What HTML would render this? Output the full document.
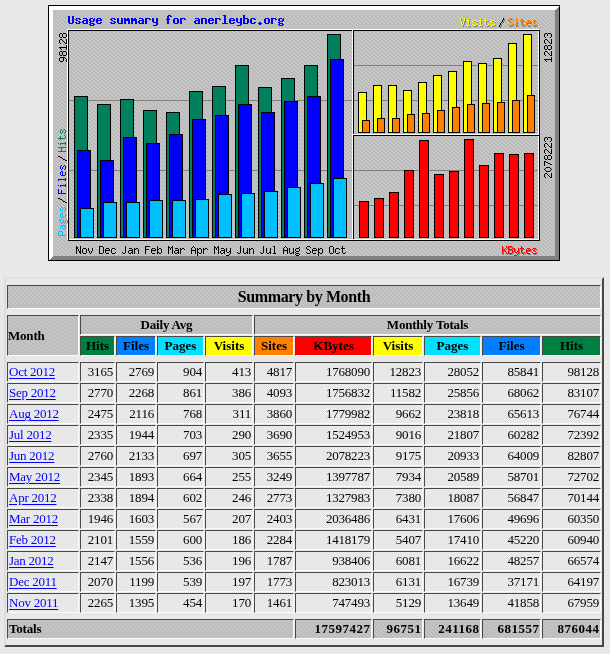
<!DOCTYPE html>
<html><head><meta charset="utf-8"><title>Usage Statistics for anerleybc.org</title>
<style>
html,body{margin:0;padding:0}
body{width:610px;height:654px;overflow:hidden;position:relative;background:#e8e8e8;font-family:"Liberation Serif",serif;color:#000}
#bg{position:absolute;left:0;top:0;width:610px;height:654px}
#cw{position:absolute;left:0;top:0;width:610px;height:654px;will-change:transform}
#tb{position:absolute;left:4px;top:277px;width:596px;height:366px;border-style:solid;border-width:2px;border-color:#e3e3e3 #484848 #484848 #dcdcdc}
.c{position:absolute;box-sizing:border-box;border-style:solid;border-width:1px;border-color:#484848 #fbfbfb #fbfbfb #484848;padding:1px;font-size:13px;white-space:nowrap;overflow:hidden}
.c.g{background-color:#c0c0c0;background-image:repeating-linear-gradient(45deg,#c4c4c4 0,#c4c4c4 2.12px,#b4b4b4 2.12px,#b4b4b4 2.83px)}
.t{font-size:16px;font-weight:bold;text-align:center;letter-spacing:-0.4px}
.h{font-weight:bold;text-align:center}
.gh{letter-spacing:-0.2px}
.d{letter-spacing:-0.2px}
.tn{letter-spacing:0.5px}
.l{text-align:left}
.i1{text-indent:0}
.m0{padding-left:0}
.r{text-align:right}
.tn{padding-right:0.5px}
.a{color:#0000ff;text-decoration:underline;text-underline-offset:2px;text-decoration-thickness:1px;letter-spacing:-0.25px}
</style></head><body>
<svg id="bg" width="610" height="654"><defs>
<pattern id="p" width="2" height="2" patternUnits="userSpaceOnUse"><rect width="2" height="2" fill="#f0f0f0"/><rect width="1" height="1" fill="#e0e0e0"/><rect x="1" y="1" width="1" height="1" fill="#e0e0e0"/></pattern>
</defs><rect width="610" height="654" fill="url(#p)" shape-rendering="crispEdges"/></svg>
<svg width="512" height="256" viewBox="0 0 512 256" shape-rendering="crispEdges" style="position:absolute;left:48px;top:5px"><defs><pattern id="g" width="4" height="4" patternUnits="userSpaceOnUse"><rect width="4" height="4" fill="#c5c5c5"/><rect x="0" y="0" width="1" height="1" fill="#b1b1b1"/><rect x="1" y="1" width="1" height="1" fill="#b1b1b1"/><rect x="2" y="2" width="1" height="1" fill="#b1b1b1"/><rect x="3" y="3" width="1" height="1" fill="#b1b1b1"/></pattern></defs><rect width="512" height="256" fill="url(#g)"/><rect x="0" y="0" width="512" height="5" fill="#fff"/><rect x="0" y="0" width="5" height="256" fill="#fff"/><polygon points="512,0 512,256 0,256 5,251 507,251 507,5" fill="#808080"/><rect x="0.5" y="0.5" width="511" height="255" fill="none" stroke="#000"/><rect x="19.5" y="24.5" width="471" height="210" fill="none" stroke="#fff"/><rect x="20.5" y="25.5" width="471" height="210" fill="none" stroke="#000"/><rect x="305" y="25" width="1" height="209" fill="#000"/><rect x="304" y="25" width="1" height="209" fill="#fff"/><rect x="305" y="130" width="186" height="1" fill="#000"/><rect x="305" y="129" width="186" height="1" fill="#fff"/><rect x="21" y="95" width="283" height="1" fill="#808080"/><rect x="21" y="165" width="283" height="1" fill="#808080"/><rect x="306" y="60" width="184" height="1" fill="#808080"/><rect x="306" y="95" width="184" height="1" fill="#808080"/><rect x="306" y="165" width="184" height="1" fill="#808080"/><rect x="306" y="200" width="184" height="1" fill="#808080"/><rect x="26" y="91" width="14" height="142" fill="#000"/><rect x="27" y="92" width="12" height="140" fill="#00805c"/><rect x="49" y="99" width="14" height="134" fill="#000"/><rect x="50" y="100" width="12" height="132" fill="#00805c"/><rect x="72" y="94" width="14" height="139" fill="#000"/><rect x="73" y="95" width="12" height="137" fill="#00805c"/><rect x="95" y="105" width="14" height="128" fill="#000"/><rect x="96" y="106" width="12" height="126" fill="#00805c"/><rect x="118" y="107" width="14" height="126" fill="#000"/><rect x="119" y="108" width="12" height="124" fill="#00805c"/><rect x="141" y="86" width="14" height="147" fill="#000"/><rect x="142" y="87" width="12" height="145" fill="#00805c"/><rect x="164" y="81" width="14" height="152" fill="#000"/><rect x="165" y="82" width="12" height="150" fill="#00805c"/><rect x="187" y="60" width="14" height="173" fill="#000"/><rect x="188" y="61" width="12" height="171" fill="#00805c"/><rect x="210" y="82" width="14" height="151" fill="#000"/><rect x="211" y="83" width="12" height="149" fill="#00805c"/><rect x="233" y="73" width="14" height="160" fill="#000"/><rect x="234" y="74" width="12" height="158" fill="#00805c"/><rect x="256" y="60" width="14" height="173" fill="#000"/><rect x="257" y="61" width="12" height="171" fill="#00805c"/><rect x="279" y="29" width="14" height="204" fill="#000"/><rect x="280" y="30" width="12" height="202" fill="#00805c"/><rect x="29" y="145" width="14" height="88" fill="#000"/><rect x="30" y="146" width="12" height="86" fill="#0000ff"/><rect x="52" y="155" width="14" height="78" fill="#000"/><rect x="53" y="156" width="12" height="76" fill="#0000ff"/><rect x="75" y="132" width="14" height="101" fill="#000"/><rect x="76" y="133" width="12" height="99" fill="#0000ff"/><rect x="98" y="138" width="14" height="95" fill="#000"/><rect x="99" y="139" width="12" height="93" fill="#0000ff"/><rect x="121" y="129" width="14" height="104" fill="#000"/><rect x="122" y="130" width="12" height="102" fill="#0000ff"/><rect x="144" y="114" width="14" height="119" fill="#000"/><rect x="145" y="115" width="12" height="117" fill="#0000ff"/><rect x="167" y="110" width="14" height="123" fill="#000"/><rect x="168" y="111" width="12" height="121" fill="#0000ff"/><rect x="190" y="99" width="14" height="134" fill="#000"/><rect x="191" y="100" width="12" height="132" fill="#0000ff"/><rect x="213" y="107" width="14" height="126" fill="#000"/><rect x="214" y="108" width="12" height="124" fill="#0000ff"/><rect x="236" y="96" width="14" height="137" fill="#000"/><rect x="237" y="97" width="12" height="135" fill="#0000ff"/><rect x="259" y="91" width="14" height="142" fill="#000"/><rect x="260" y="92" width="12" height="140" fill="#0000ff"/><rect x="282" y="54" width="14" height="179" fill="#000"/><rect x="283" y="55" width="12" height="177" fill="#0000ff"/><rect x="32" y="203" width="14" height="30" fill="#000"/><rect x="33" y="204" width="12" height="28" fill="#00c0ff"/><rect x="55" y="197" width="14" height="36" fill="#000"/><rect x="56" y="198" width="12" height="34" fill="#00c0ff"/><rect x="78" y="197" width="14" height="36" fill="#000"/><rect x="79" y="198" width="12" height="34" fill="#00c0ff"/><rect x="101" y="195" width="14" height="38" fill="#000"/><rect x="102" y="196" width="12" height="36" fill="#00c0ff"/><rect x="124" y="195" width="14" height="38" fill="#000"/><rect x="125" y="196" width="12" height="36" fill="#00c0ff"/><rect x="147" y="194" width="14" height="39" fill="#000"/><rect x="148" y="195" width="12" height="37" fill="#00c0ff"/><rect x="170" y="189" width="14" height="44" fill="#000"/><rect x="171" y="190" width="12" height="42" fill="#00c0ff"/><rect x="193" y="188" width="14" height="45" fill="#000"/><rect x="194" y="189" width="12" height="43" fill="#00c0ff"/><rect x="216" y="186" width="14" height="47" fill="#000"/><rect x="217" y="187" width="12" height="45" fill="#00c0ff"/><rect x="239" y="182" width="14" height="51" fill="#000"/><rect x="240" y="183" width="12" height="49" fill="#00c0ff"/><rect x="262" y="178" width="14" height="55" fill="#000"/><rect x="263" y="179" width="12" height="53" fill="#00c0ff"/><rect x="285" y="173" width="14" height="60" fill="#000"/><rect x="286" y="174" width="12" height="58" fill="#00c0ff"/><rect x="310" y="87" width="9" height="41" fill="#000"/><rect x="311" y="88" width="7" height="39" fill="#ffff00"/><rect x="325" y="80" width="9" height="48" fill="#000"/><rect x="326" y="81" width="7" height="46" fill="#ffff00"/><rect x="340" y="80" width="9" height="48" fill="#000"/><rect x="341" y="81" width="7" height="46" fill="#ffff00"/><rect x="355" y="85" width="9" height="43" fill="#000"/><rect x="356" y="86" width="7" height="41" fill="#ffff00"/><rect x="370" y="77" width="9" height="51" fill="#000"/><rect x="371" y="78" width="7" height="49" fill="#ffff00"/><rect x="385" y="70" width="9" height="58" fill="#000"/><rect x="386" y="71" width="7" height="56" fill="#ffff00"/><rect x="400" y="66" width="9" height="62" fill="#000"/><rect x="401" y="67" width="7" height="60" fill="#ffff00"/><rect x="415" y="56" width="9" height="72" fill="#000"/><rect x="416" y="57" width="7" height="70" fill="#ffff00"/><rect x="430" y="58" width="9" height="70" fill="#000"/><rect x="431" y="59" width="7" height="68" fill="#ffff00"/><rect x="445" y="53" width="9" height="75" fill="#000"/><rect x="446" y="54" width="7" height="73" fill="#ffff00"/><rect x="460" y="38" width="9" height="90" fill="#000"/><rect x="461" y="39" width="7" height="88" fill="#ffff00"/><rect x="475" y="29" width="9" height="99" fill="#000"/><rect x="476" y="30" width="7" height="97" fill="#ffff00"/><rect x="314" y="115" width="8" height="13" fill="#000"/><rect x="315" y="116" width="6" height="11" fill="#ff8000"/><rect x="329" y="113" width="8" height="15" fill="#000"/><rect x="330" y="114" width="6" height="13" fill="#ff8000"/><rect x="344" y="113" width="8" height="15" fill="#000"/><rect x="345" y="114" width="6" height="13" fill="#ff8000"/><rect x="359" y="109" width="8" height="19" fill="#000"/><rect x="360" y="110" width="6" height="17" fill="#ff8000"/><rect x="374" y="108" width="8" height="20" fill="#000"/><rect x="375" y="109" width="6" height="18" fill="#ff8000"/><rect x="389" y="105" width="8" height="23" fill="#000"/><rect x="390" y="106" width="6" height="21" fill="#ff8000"/><rect x="404" y="102" width="8" height="26" fill="#000"/><rect x="405" y="103" width="6" height="24" fill="#ff8000"/><rect x="419" y="99" width="8" height="29" fill="#000"/><rect x="420" y="100" width="6" height="27" fill="#ff8000"/><rect x="434" y="98" width="8" height="30" fill="#000"/><rect x="435" y="99" width="6" height="28" fill="#ff8000"/><rect x="449" y="97" width="8" height="31" fill="#000"/><rect x="450" y="98" width="6" height="29" fill="#ff8000"/><rect x="464" y="95" width="8" height="33" fill="#000"/><rect x="465" y="96" width="6" height="31" fill="#ff8000"/><rect x="479" y="90" width="8" height="38" fill="#000"/><rect x="480" y="91" width="6" height="36" fill="#ff8000"/><rect x="311" y="196" width="10" height="37" fill="#000"/><rect x="312" y="197" width="8" height="35" fill="#ff0000"/><rect x="326" y="193" width="10" height="40" fill="#000"/><rect x="327" y="194" width="8" height="38" fill="#ff0000"/><rect x="341" y="187" width="10" height="46" fill="#000"/><rect x="342" y="188" width="8" height="44" fill="#ff0000"/><rect x="356" y="165" width="10" height="68" fill="#000"/><rect x="357" y="166" width="8" height="66" fill="#ff0000"/><rect x="371" y="135" width="10" height="98" fill="#000"/><rect x="372" y="136" width="8" height="96" fill="#ff0000"/><rect x="386" y="169" width="10" height="64" fill="#000"/><rect x="387" y="170" width="8" height="62" fill="#ff0000"/><rect x="401" y="166" width="10" height="67" fill="#000"/><rect x="402" y="167" width="8" height="65" fill="#ff0000"/><rect x="416" y="134" width="10" height="99" fill="#000"/><rect x="417" y="135" width="8" height="97" fill="#ff0000"/><rect x="431" y="160" width="10" height="73" fill="#000"/><rect x="432" y="161" width="8" height="71" fill="#ff0000"/><rect x="446" y="148" width="10" height="85" fill="#000"/><rect x="447" y="149" width="8" height="83" fill="#ff0000"/><rect x="461" y="149" width="10" height="84" fill="#000"/><rect x="462" y="150" width="8" height="82" fill="#ff0000"/><rect x="476" y="148" width="10" height="85" fill="#000"/><rect x="477" y="149" width="8" height="83" fill="#ff0000"/><path d="M120 10h3v1h-3zM175 10h3v1h-3zM195 10h2v1h-2zM20 11h2v1h-2zM24 11h2v1h-2zM119 11h2v1h-2zM122 11h2v1h-2zM176 11h2v1h-2zM195 11h2v1h-2zM20 12h2v1h-2zM24 12h2v1h-2zM119 12h2v1h-2zM176 12h2v1h-2zM195 12h2v1h-2zM20 13h2v1h-2zM24 13h2v1h-2zM28 13h4v1h-4zM35 13h4v1h-4zM42 13h3v1h-3zM46 13h1v1h-1zM49 13h4v1h-4zM63 13h4v1h-4zM69 13h2v1h-2zM73 13h2v1h-2zM76 13h2v1h-2zM79 13h2v1h-2zM83 13h2v1h-2zM86 13h2v1h-2zM91 13h4v1h-4zM97 13h5v1h-5zM104 13h2v1h-2zM108 13h2v1h-2zM119 13h2v1h-2zM126 13h4v1h-4zM132 13h5v1h-5zM147 13h4v1h-4zM153 13h5v1h-5zM161 13h4v1h-4zM167 13h5v1h-5zM176 13h2v1h-2zM182 13h4v1h-4zM188 13h2v1h-2zM192 13h2v1h-2zM195 13h5v1h-5zM203 13h4v1h-4zM217 13h4v1h-4zM223 13h5v1h-5zM231 13h3v1h-3zM235 13h1v1h-1zM20 14h2v1h-2zM24 14h2v1h-2zM27 14h2v1h-2zM31 14h2v1h-2zM38 14h2v1h-2zM41 14h2v1h-2zM45 14h2v1h-2zM48 14h2v1h-2zM52 14h2v1h-2zM62 14h2v1h-2zM66 14h2v1h-2zM69 14h2v1h-2zM73 14h2v1h-2zM76 14h6v1h-6zM83 14h6v1h-6zM94 14h2v1h-2zM97 14h2v1h-2zM101 14h2v1h-2zM104 14h2v1h-2zM108 14h2v1h-2zM118 14h4v1h-4zM125 14h2v1h-2zM129 14h2v1h-2zM132 14h2v1h-2zM136 14h2v1h-2zM150 14h2v1h-2zM153 14h2v1h-2zM157 14h2v1h-2zM160 14h2v1h-2zM164 14h2v1h-2zM167 14h2v1h-2zM171 14h2v1h-2zM176 14h2v1h-2zM181 14h2v1h-2zM185 14h2v1h-2zM188 14h2v1h-2zM192 14h2v1h-2zM195 14h2v1h-2zM199 14h2v1h-2zM202 14h2v1h-2zM206 14h2v1h-2zM216 14h2v1h-2zM220 14h2v1h-2zM223 14h2v1h-2zM227 14h2v1h-2zM230 14h2v1h-2zM234 14h2v1h-2zM20 15h2v1h-2zM24 15h2v1h-2zM28 15h2v1h-2zM35 15h5v1h-5zM41 15h2v1h-2zM45 15h2v1h-2zM48 15h6v1h-6zM63 15h2v1h-2zM69 15h2v1h-2zM73 15h2v1h-2zM76 15h6v1h-6zM83 15h6v1h-6zM91 15h5v1h-5zM97 15h2v1h-2zM104 15h2v1h-2zM108 15h2v1h-2zM119 15h2v1h-2zM125 15h2v1h-2zM129 15h2v1h-2zM132 15h2v1h-2zM147 15h5v1h-5zM153 15h2v1h-2zM157 15h2v1h-2zM160 15h6v1h-6zM167 15h2v1h-2zM176 15h2v1h-2zM181 15h6v1h-6zM188 15h2v1h-2zM192 15h2v1h-2zM195 15h2v1h-2zM199 15h2v1h-2zM202 15h2v1h-2zM216 15h2v1h-2zM220 15h2v1h-2zM223 15h2v1h-2zM230 15h2v1h-2zM234 15h2v1h-2zM20 16h2v1h-2zM24 16h2v1h-2zM30 16h2v1h-2zM34 16h2v1h-2zM38 16h2v1h-2zM42 16h4v1h-4zM48 16h2v1h-2zM65 16h2v1h-2zM69 16h2v1h-2zM73 16h2v1h-2zM76 16h2v1h-2zM80 16h2v1h-2zM83 16h2v1h-2zM87 16h2v1h-2zM90 16h2v1h-2zM94 16h2v1h-2zM97 16h2v1h-2zM104 16h2v1h-2zM108 16h2v1h-2zM119 16h2v1h-2zM125 16h2v1h-2zM129 16h2v1h-2zM132 16h2v1h-2zM146 16h2v1h-2zM150 16h2v1h-2zM153 16h2v1h-2zM157 16h2v1h-2zM160 16h2v1h-2zM167 16h2v1h-2zM176 16h2v1h-2zM181 16h2v1h-2zM188 16h2v1h-2zM192 16h2v1h-2zM195 16h2v1h-2zM199 16h2v1h-2zM202 16h2v1h-2zM216 16h2v1h-2zM220 16h2v1h-2zM223 16h2v1h-2zM231 16h4v1h-4zM20 17h2v1h-2zM24 17h2v1h-2zM27 17h2v1h-2zM31 17h2v1h-2zM34 17h2v1h-2zM38 17h2v1h-2zM41 17h2v1h-2zM48 17h2v1h-2zM52 17h2v1h-2zM62 17h2v1h-2zM66 17h2v1h-2zM69 17h2v1h-2zM73 17h2v1h-2zM76 17h2v1h-2zM80 17h2v1h-2zM83 17h2v1h-2zM87 17h2v1h-2zM90 17h2v1h-2zM94 17h2v1h-2zM97 17h2v1h-2zM105 17h5v1h-5zM119 17h2v1h-2zM125 17h2v1h-2zM129 17h2v1h-2zM132 17h2v1h-2zM146 17h2v1h-2zM150 17h2v1h-2zM153 17h2v1h-2zM157 17h2v1h-2zM160 17h2v1h-2zM164 17h2v1h-2zM167 17h2v1h-2zM176 17h2v1h-2zM181 17h2v1h-2zM185 17h2v1h-2zM189 17h5v1h-5zM195 17h2v1h-2zM199 17h2v1h-2zM202 17h2v1h-2zM206 17h2v1h-2zM211 17h2v1h-2zM216 17h2v1h-2zM220 17h2v1h-2zM223 17h2v1h-2zM230 17h2v1h-2zM21 18h4v1h-4zM28 18h4v1h-4zM35 18h5v1h-5zM42 18h4v1h-4zM49 18h4v1h-4zM63 18h4v1h-4zM70 18h5v1h-5zM76 18h2v1h-2zM80 18h2v1h-2zM83 18h2v1h-2zM87 18h2v1h-2zM91 18h5v1h-5zM97 18h2v1h-2zM108 18h2v1h-2zM119 18h2v1h-2zM126 18h4v1h-4zM132 18h2v1h-2zM147 18h5v1h-5zM153 18h2v1h-2zM157 18h2v1h-2zM161 18h4v1h-4zM167 18h2v1h-2zM174 18h6v1h-6zM182 18h4v1h-4zM192 18h2v1h-2zM195 18h5v1h-5zM203 18h4v1h-4zM210 18h4v1h-4zM217 18h4v1h-4zM223 18h2v1h-2zM231 18h4v1h-4zM41 19h2v1h-2zM45 19h2v1h-2zM108 19h2v1h-2zM192 19h2v1h-2zM211 19h2v1h-2zM230 19h2v1h-2zM234 19h2v1h-2zM42 20h4v1h-4zM105 20h4v1h-4zM189 20h4v1h-4zM231 20h4v1h-4z" fill="#0000ff"/><path d="M28 241h1v1h-1zM32 241h1v1h-1zM28 242h2v1h-2zM32 242h1v1h-1zM28 243h2v1h-2zM32 243h1v1h-1zM35 243h3v1h-3zM40 243h1v1h-1zM44 243h1v1h-1zM28 244h1v1h-1zM30 244h1v1h-1zM32 244h1v1h-1zM34 244h1v1h-1zM38 244h1v1h-1zM40 244h1v1h-1zM44 244h1v1h-1zM28 245h1v1h-1zM30 245h1v1h-1zM32 245h1v1h-1zM34 245h1v1h-1zM38 245h1v1h-1zM40 245h1v1h-1zM44 245h1v1h-1zM28 246h1v1h-1zM31 246h2v1h-2zM34 246h1v1h-1zM38 246h1v1h-1zM41 246h1v1h-1zM43 246h1v1h-1zM28 247h1v1h-1zM31 247h2v1h-2zM34 247h1v1h-1zM38 247h1v1h-1zM41 247h1v1h-1zM43 247h1v1h-1zM28 248h1v1h-1zM32 248h1v1h-1zM35 248h3v1h-3zM42 248h1v1h-1z" fill="#000"/><path d="M51 241h4v1h-4zM51 242h1v1h-1zM55 242h1v1h-1zM51 243h1v1h-1zM55 243h1v1h-1zM58 243h3v1h-3zM64 243h3v1h-3zM51 244h1v1h-1zM55 244h1v1h-1zM57 244h1v1h-1zM61 244h1v1h-1zM63 244h1v1h-1zM67 244h1v1h-1zM51 245h1v1h-1zM55 245h1v1h-1zM57 245h5v1h-5zM63 245h1v1h-1zM51 246h1v1h-1zM55 246h1v1h-1zM57 246h1v1h-1zM63 246h1v1h-1zM51 247h1v1h-1zM55 247h1v1h-1zM57 247h1v1h-1zM63 247h1v1h-1zM67 247h1v1h-1zM51 248h4v1h-4zM58 248h3v1h-3zM64 248h3v1h-3z" fill="#000"/><path d="M77 241h1v1h-1zM77 242h1v1h-1zM77 243h1v1h-1zM81 243h3v1h-3zM86 243h1v1h-1zM88 243h2v1h-2zM77 244h1v1h-1zM84 244h1v1h-1zM86 244h2v1h-2zM90 244h1v1h-1zM77 245h1v1h-1zM81 245h4v1h-4zM86 245h1v1h-1zM90 245h1v1h-1zM77 246h1v1h-1zM80 246h1v1h-1zM84 246h1v1h-1zM86 246h1v1h-1zM90 246h1v1h-1zM74 247h1v1h-1zM77 247h1v1h-1zM80 247h1v1h-1zM83 247h2v1h-2zM86 247h1v1h-1zM90 247h1v1h-1zM75 248h2v1h-2zM81 248h2v1h-2zM84 248h1v1h-1zM86 248h1v1h-1zM90 248h1v1h-1z" fill="#000"/><path d="M97 241h5v1h-5zM109 241h1v1h-1zM97 242h1v1h-1zM109 242h1v1h-1zM97 243h1v1h-1zM104 243h3v1h-3zM109 243h1v1h-1zM111 243h2v1h-2zM97 244h4v1h-4zM103 244h1v1h-1zM107 244h1v1h-1zM109 244h2v1h-2zM113 244h1v1h-1zM97 245h1v1h-1zM103 245h5v1h-5zM109 245h1v1h-1zM113 245h1v1h-1zM97 246h1v1h-1zM103 246h1v1h-1zM109 246h1v1h-1zM113 246h1v1h-1zM97 247h1v1h-1zM103 247h1v1h-1zM109 247h2v1h-2zM113 247h1v1h-1zM97 248h1v1h-1zM104 248h3v1h-3zM109 248h1v1h-1zM111 248h2v1h-2z" fill="#000"/><path d="M120 241h1v1h-1zM124 241h1v1h-1zM120 242h2v1h-2zM123 242h2v1h-2zM120 243h1v1h-1zM122 243h1v1h-1zM124 243h1v1h-1zM127 243h3v1h-3zM132 243h1v1h-1zM134 243h2v1h-2zM120 244h1v1h-1zM122 244h1v1h-1zM124 244h1v1h-1zM130 244h1v1h-1zM132 244h2v1h-2zM136 244h1v1h-1zM120 245h1v1h-1zM124 245h1v1h-1zM127 245h4v1h-4zM132 245h1v1h-1zM120 246h1v1h-1zM124 246h1v1h-1zM126 246h1v1h-1zM130 246h1v1h-1zM132 246h1v1h-1zM120 247h1v1h-1zM124 247h1v1h-1zM126 247h1v1h-1zM129 247h2v1h-2zM132 247h1v1h-1zM120 248h1v1h-1zM124 248h1v1h-1zM127 248h2v1h-2zM130 248h1v1h-1zM132 248h1v1h-1z" fill="#000"/><path d="M145 241h1v1h-1zM144 242h1v1h-1zM146 242h1v1h-1zM143 243h1v1h-1zM147 243h1v1h-1zM149 243h1v1h-1zM151 243h2v1h-2zM155 243h1v1h-1zM157 243h2v1h-2zM143 244h1v1h-1zM147 244h1v1h-1zM149 244h2v1h-2zM153 244h1v1h-1zM155 244h2v1h-2zM159 244h1v1h-1zM143 245h5v1h-5zM149 245h1v1h-1zM153 245h1v1h-1zM155 245h1v1h-1zM143 246h1v1h-1zM147 246h1v1h-1zM149 246h1v1h-1zM153 246h1v1h-1zM155 246h1v1h-1zM143 247h1v1h-1zM147 247h1v1h-1zM149 247h2v1h-2zM153 247h1v1h-1zM155 247h1v1h-1zM143 248h1v1h-1zM147 248h1v1h-1zM149 248h1v1h-1zM151 248h2v1h-2zM155 248h1v1h-1zM149 249h1v1h-1zM149 250h1v1h-1z" fill="#000"/><path d="M166 241h1v1h-1zM170 241h1v1h-1zM166 242h2v1h-2zM169 242h2v1h-2zM166 243h1v1h-1zM168 243h1v1h-1zM170 243h1v1h-1zM173 243h3v1h-3zM178 243h1v1h-1zM182 243h1v1h-1zM166 244h1v1h-1zM168 244h1v1h-1zM170 244h1v1h-1zM176 244h1v1h-1zM178 244h1v1h-1zM182 244h1v1h-1zM166 245h1v1h-1zM170 245h1v1h-1zM173 245h4v1h-4zM178 245h1v1h-1zM182 245h1v1h-1zM166 246h1v1h-1zM170 246h1v1h-1zM172 246h1v1h-1zM176 246h1v1h-1zM178 246h1v1h-1zM181 246h2v1h-2zM166 247h1v1h-1zM170 247h1v1h-1zM172 247h1v1h-1zM175 247h2v1h-2zM179 247h2v1h-2zM182 247h1v1h-1zM166 248h1v1h-1zM170 248h1v1h-1zM173 248h2v1h-2zM176 248h1v1h-1zM182 248h1v1h-1zM181 249h1v1h-1zM178 250h3v1h-3z" fill="#000"/><path d="M192 241h1v1h-1zM192 242h1v1h-1zM192 243h1v1h-1zM195 243h1v1h-1zM199 243h1v1h-1zM201 243h1v1h-1zM203 243h2v1h-2zM192 244h1v1h-1zM195 244h1v1h-1zM199 244h1v1h-1zM201 244h2v1h-2zM205 244h1v1h-1zM192 245h1v1h-1zM195 245h1v1h-1zM199 245h1v1h-1zM201 245h1v1h-1zM205 245h1v1h-1zM192 246h1v1h-1zM195 246h1v1h-1zM199 246h1v1h-1zM201 246h1v1h-1zM205 246h1v1h-1zM189 247h1v1h-1zM192 247h1v1h-1zM195 247h1v1h-1zM198 247h2v1h-2zM201 247h1v1h-1zM205 247h1v1h-1zM190 248h2v1h-2zM196 248h2v1h-2zM199 248h1v1h-1zM201 248h1v1h-1zM205 248h1v1h-1z" fill="#000"/><path d="M215 241h1v1h-1zM225 241h2v1h-2zM215 242h1v1h-1zM226 242h1v1h-1zM215 243h1v1h-1zM218 243h1v1h-1zM222 243h1v1h-1zM226 243h1v1h-1zM215 244h1v1h-1zM218 244h1v1h-1zM222 244h1v1h-1zM226 244h1v1h-1zM215 245h1v1h-1zM218 245h1v1h-1zM222 245h1v1h-1zM226 245h1v1h-1zM215 246h1v1h-1zM218 246h1v1h-1zM222 246h1v1h-1zM226 246h1v1h-1zM212 247h1v1h-1zM215 247h1v1h-1zM218 247h1v1h-1zM221 247h2v1h-2zM226 247h1v1h-1zM213 248h2v1h-2zM219 248h2v1h-2zM222 248h1v1h-1zM225 248h3v1h-3z" fill="#000"/><path d="M237 241h1v1h-1zM236 242h1v1h-1zM238 242h1v1h-1zM251 242h1v1h-1zM235 243h1v1h-1zM239 243h1v1h-1zM241 243h1v1h-1zM245 243h1v1h-1zM248 243h3v1h-3zM235 244h1v1h-1zM239 244h1v1h-1zM241 244h1v1h-1zM245 244h1v1h-1zM247 244h1v1h-1zM251 244h1v1h-1zM235 245h5v1h-5zM241 245h1v1h-1zM245 245h1v1h-1zM247 245h1v1h-1zM251 245h1v1h-1zM235 246h1v1h-1zM239 246h1v1h-1zM241 246h1v1h-1zM245 246h1v1h-1zM248 246h3v1h-3zM235 247h1v1h-1zM239 247h1v1h-1zM241 247h1v1h-1zM244 247h2v1h-2zM247 247h1v1h-1zM235 248h1v1h-1zM239 248h1v1h-1zM242 248h2v1h-2zM245 248h1v1h-1zM248 248h3v1h-3zM247 249h1v1h-1zM251 249h1v1h-1zM248 250h3v1h-3z" fill="#000"/><path d="M259 241h3v1h-3zM258 242h1v1h-1zM262 242h1v1h-1zM258 243h1v1h-1zM265 243h3v1h-3zM270 243h1v1h-1zM272 243h2v1h-2zM259 244h2v1h-2zM264 244h1v1h-1zM268 244h1v1h-1zM270 244h2v1h-2zM274 244h1v1h-1zM261 245h1v1h-1zM264 245h5v1h-5zM270 245h1v1h-1zM274 245h1v1h-1zM262 246h1v1h-1zM264 246h1v1h-1zM270 246h1v1h-1zM274 246h1v1h-1zM258 247h1v1h-1zM262 247h1v1h-1zM264 247h1v1h-1zM270 247h2v1h-2zM274 247h1v1h-1zM259 248h3v1h-3zM265 248h3v1h-3zM270 248h1v1h-1zM272 248h2v1h-2zM270 249h1v1h-1zM270 250h1v1h-1z" fill="#000"/><path d="M282 241h3v1h-3zM294 241h1v1h-1zM281 242h1v1h-1zM285 242h1v1h-1zM294 242h1v1h-1zM281 243h1v1h-1zM285 243h1v1h-1zM288 243h3v1h-3zM293 243h4v1h-4zM281 244h1v1h-1zM285 244h1v1h-1zM287 244h1v1h-1zM291 244h1v1h-1zM294 244h1v1h-1zM281 245h1v1h-1zM285 245h1v1h-1zM287 245h1v1h-1zM294 245h1v1h-1zM281 246h1v1h-1zM285 246h1v1h-1zM287 246h1v1h-1zM294 246h1v1h-1zM281 247h1v1h-1zM285 247h1v1h-1zM287 247h1v1h-1zM291 247h1v1h-1zM294 247h1v1h-1zM297 247h1v1h-1zM282 248h3v1h-3zM288 248h3v1h-3zM295 248h2v1h-2z" fill="#000"/><path d="M413 14h1v1h-1zM417 14h1v1h-1zM421 14h1v1h-1zM433 14h1v1h-1zM438 14h1v1h-1zM413 15h1v1h-1zM417 15h1v1h-1zM438 15h1v1h-1zM413 16h1v1h-1zM417 16h1v1h-1zM420 16h2v1h-2zM426 16h3v1h-3zM432 16h2v1h-2zM437 16h4v1h-4zM444 16h3v1h-3zM414 17h1v1h-1zM416 17h1v1h-1zM421 17h1v1h-1zM425 17h1v1h-1zM429 17h1v1h-1zM433 17h1v1h-1zM438 17h1v1h-1zM443 17h1v1h-1zM447 17h1v1h-1zM414 18h1v1h-1zM416 18h1v1h-1zM421 18h1v1h-1zM426 18h2v1h-2zM433 18h1v1h-1zM438 18h1v1h-1zM444 18h2v1h-2zM414 19h1v1h-1zM416 19h1v1h-1zM421 19h1v1h-1zM428 19h1v1h-1zM433 19h1v1h-1zM438 19h1v1h-1zM446 19h1v1h-1zM415 20h1v1h-1zM421 20h1v1h-1zM425 20h1v1h-1zM429 20h1v1h-1zM433 20h1v1h-1zM438 20h1v1h-1zM441 20h1v1h-1zM443 20h1v1h-1zM447 20h1v1h-1zM415 21h1v1h-1zM420 21h3v1h-3zM426 21h3v1h-3zM432 21h3v1h-3zM439 21h2v1h-2zM444 21h3v1h-3z" fill="#808080"/><path d="M412 13h1v1h-1zM416 13h1v1h-1zM420 13h1v1h-1zM432 13h1v1h-1zM437 13h1v1h-1zM412 14h1v1h-1zM416 14h1v1h-1zM437 14h1v1h-1zM412 15h1v1h-1zM416 15h1v1h-1zM419 15h2v1h-2zM425 15h3v1h-3zM431 15h2v1h-2zM436 15h4v1h-4zM443 15h3v1h-3zM413 16h1v1h-1zM415 16h1v1h-1zM420 16h1v1h-1zM424 16h1v1h-1zM428 16h1v1h-1zM432 16h1v1h-1zM437 16h1v1h-1zM442 16h1v1h-1zM446 16h1v1h-1zM413 17h1v1h-1zM415 17h1v1h-1zM420 17h1v1h-1zM425 17h2v1h-2zM432 17h1v1h-1zM437 17h1v1h-1zM443 17h2v1h-2zM413 18h1v1h-1zM415 18h1v1h-1zM420 18h1v1h-1zM427 18h1v1h-1zM432 18h1v1h-1zM437 18h1v1h-1zM445 18h1v1h-1zM414 19h1v1h-1zM420 19h1v1h-1zM424 19h1v1h-1zM428 19h1v1h-1zM432 19h1v1h-1zM437 19h1v1h-1zM440 19h1v1h-1zM442 19h1v1h-1zM446 19h1v1h-1zM414 20h1v1h-1zM419 20h3v1h-3zM425 20h3v1h-3zM431 20h3v1h-3zM438 20h2v1h-2zM443 20h3v1h-3z" fill="#ffff00"/><path d="M456 14h1v1h-1zM456 15h1v1h-1zM455 16h1v1h-1zM455 17h1v1h-1zM454 18h1v1h-1zM453 19h1v1h-1zM453 20h1v1h-1zM452 21h1v1h-1zM452 22h1v1h-1z" fill="#808080"/><path d="M455 13h1v1h-1zM455 14h1v1h-1zM454 15h1v1h-1zM454 16h1v1h-1zM453 17h1v1h-1zM452 18h1v1h-1zM452 19h1v1h-1zM451 20h1v1h-1zM451 21h1v1h-1z" fill="#000"/><path d="M462 14h3v1h-3zM469 14h1v1h-1zM474 14h1v1h-1zM461 15h1v1h-1zM465 15h1v1h-1zM474 15h1v1h-1zM461 16h1v1h-1zM468 16h2v1h-2zM473 16h4v1h-4zM480 16h3v1h-3zM486 16h3v1h-3zM462 17h2v1h-2zM469 17h1v1h-1zM474 17h1v1h-1zM479 17h1v1h-1zM483 17h1v1h-1zM485 17h1v1h-1zM489 17h1v1h-1zM464 18h1v1h-1zM469 18h1v1h-1zM474 18h1v1h-1zM479 18h5v1h-5zM486 18h2v1h-2zM465 19h1v1h-1zM469 19h1v1h-1zM474 19h1v1h-1zM479 19h1v1h-1zM488 19h1v1h-1zM461 20h1v1h-1zM465 20h1v1h-1zM469 20h1v1h-1zM474 20h1v1h-1zM477 20h1v1h-1zM479 20h1v1h-1zM485 20h1v1h-1zM489 20h1v1h-1zM462 21h3v1h-3zM468 21h3v1h-3zM475 21h2v1h-2zM480 21h3v1h-3zM486 21h3v1h-3z" fill="#808080"/><path d="M461 13h3v1h-3zM468 13h1v1h-1zM473 13h1v1h-1zM460 14h1v1h-1zM464 14h1v1h-1zM473 14h1v1h-1zM460 15h1v1h-1zM467 15h2v1h-2zM472 15h4v1h-4zM479 15h3v1h-3zM485 15h3v1h-3zM461 16h2v1h-2zM468 16h1v1h-1zM473 16h1v1h-1zM478 16h1v1h-1zM482 16h1v1h-1zM484 16h1v1h-1zM488 16h1v1h-1zM463 17h1v1h-1zM468 17h1v1h-1zM473 17h1v1h-1zM478 17h5v1h-5zM485 17h2v1h-2zM464 18h1v1h-1zM468 18h1v1h-1zM473 18h1v1h-1zM478 18h1v1h-1zM487 18h1v1h-1zM460 19h1v1h-1zM464 19h1v1h-1zM468 19h1v1h-1zM473 19h1v1h-1zM476 19h1v1h-1zM478 19h1v1h-1zM484 19h1v1h-1zM488 19h1v1h-1zM461 20h3v1h-3zM467 20h3v1h-3zM474 20h2v1h-2zM479 20h3v1h-3zM485 20h3v1h-3z" fill="#ff8000"/><path d="M455 242h1v1h-1zM459 242h1v1h-1zM461 242h4v1h-4zM474 242h1v1h-1zM455 243h1v1h-1zM459 243h1v1h-1zM461 243h1v1h-1zM465 243h1v1h-1zM474 243h1v1h-1zM455 244h1v1h-1zM458 244h1v1h-1zM461 244h1v1h-1zM465 244h1v1h-1zM467 244h1v1h-1zM471 244h1v1h-1zM473 244h4v1h-4zM480 244h3v1h-3zM486 244h3v1h-3zM455 245h1v1h-1zM457 245h1v1h-1zM461 245h4v1h-4zM467 245h1v1h-1zM471 245h1v1h-1zM474 245h1v1h-1zM479 245h1v1h-1zM483 245h1v1h-1zM485 245h1v1h-1zM489 245h1v1h-1zM455 246h3v1h-3zM461 246h1v1h-1zM465 246h1v1h-1zM467 246h1v1h-1zM471 246h1v1h-1zM474 246h1v1h-1zM479 246h5v1h-5zM486 246h2v1h-2zM455 247h1v1h-1zM458 247h1v1h-1zM461 247h1v1h-1zM465 247h1v1h-1zM467 247h1v1h-1zM470 247h2v1h-2zM474 247h1v1h-1zM479 247h1v1h-1zM488 247h1v1h-1zM455 248h1v1h-1zM459 248h1v1h-1zM461 248h1v1h-1zM465 248h1v1h-1zM468 248h2v1h-2zM471 248h1v1h-1zM474 248h1v1h-1zM477 248h1v1h-1zM479 248h1v1h-1zM485 248h1v1h-1zM489 248h1v1h-1zM455 249h1v1h-1zM459 249h1v1h-1zM461 249h4v1h-4zM471 249h1v1h-1zM475 249h2v1h-2zM480 249h3v1h-3zM486 249h3v1h-3zM470 250h1v1h-1zM467 251h3v1h-3z" fill="#808080"/><path d="M454 241h1v1h-1zM458 241h1v1h-1zM460 241h4v1h-4zM473 241h1v1h-1zM454 242h1v1h-1zM458 242h1v1h-1zM460 242h1v1h-1zM464 242h1v1h-1zM473 242h1v1h-1zM454 243h1v1h-1zM457 243h1v1h-1zM460 243h1v1h-1zM464 243h1v1h-1zM466 243h1v1h-1zM470 243h1v1h-1zM472 243h4v1h-4zM479 243h3v1h-3zM485 243h3v1h-3zM454 244h1v1h-1zM456 244h1v1h-1zM460 244h4v1h-4zM466 244h1v1h-1zM470 244h1v1h-1zM473 244h1v1h-1zM478 244h1v1h-1zM482 244h1v1h-1zM484 244h1v1h-1zM488 244h1v1h-1zM454 245h3v1h-3zM460 245h1v1h-1zM464 245h1v1h-1zM466 245h1v1h-1zM470 245h1v1h-1zM473 245h1v1h-1zM478 245h5v1h-5zM485 245h2v1h-2zM454 246h1v1h-1zM457 246h1v1h-1zM460 246h1v1h-1zM464 246h1v1h-1zM466 246h1v1h-1zM469 246h2v1h-2zM473 246h1v1h-1zM478 246h1v1h-1zM487 246h1v1h-1zM454 247h1v1h-1zM458 247h1v1h-1zM460 247h1v1h-1zM464 247h1v1h-1zM467 247h2v1h-2zM470 247h1v1h-1zM473 247h1v1h-1zM476 247h1v1h-1zM478 247h1v1h-1zM484 247h1v1h-1zM488 247h1v1h-1zM454 248h1v1h-1zM458 248h1v1h-1zM460 248h4v1h-4zM470 248h1v1h-1zM474 248h2v1h-2zM479 248h3v1h-3zM485 248h3v1h-3zM469 249h1v1h-1zM466 250h3v1h-3z" fill="#ff0000"/><path d="M13 202h1v1h-1zM16 202h1v1h-1zM12 203h1v1h-1zM15 203h1v1h-1zM17 203h1v1h-1zM12 204h1v1h-1zM14 204h1v1h-1zM17 204h1v1h-1zM12 205h1v1h-1zM14 205h1v1h-1zM17 205h1v1h-1zM13 206h1v1h-1zM16 206h1v1h-1zM13 208h2v1h-2zM12 209h1v1h-1zM14 209h1v1h-1zM17 209h1v1h-1zM12 210h1v1h-1zM14 210h1v1h-1zM17 210h1v1h-1zM12 211h1v1h-1zM14 211h1v1h-1zM17 211h1v1h-1zM13 212h4v1h-4zM11 214h1v1h-1zM13 214h2v1h-2zM18 214h1v1h-1zM12 215h1v1h-1zM15 215h1v1h-1zM17 215h1v1h-1zM19 215h1v1h-1zM12 216h1v1h-1zM15 216h1v1h-1zM17 216h1v1h-1zM19 216h1v1h-1zM12 217h1v1h-1zM15 217h1v1h-1zM17 217h1v1h-1zM19 217h1v1h-1zM13 218h2v1h-2zM16 218h1v1h-1zM18 218h1v1h-1zM13 220h5v1h-5zM12 221h1v1h-1zM14 221h1v1h-1zM16 221h1v1h-1zM12 222h1v1h-1zM14 222h1v1h-1zM17 222h1v1h-1zM12 223h1v1h-1zM14 223h1v1h-1zM17 223h1v1h-1zM15 224h2v1h-2zM11 226h3v1h-3zM10 227h1v1h-1zM14 227h1v1h-1zM10 228h1v1h-1zM14 228h1v1h-1zM10 229h1v1h-1zM14 229h1v1h-1zM10 230h8v1h-8z" fill="#00c0ff"/><path d="M10 193h2v1h-2zM12 194h2v1h-2zM14 195h1v1h-1zM15 196h2v1h-2zM17 197h2v1h-2z" fill="#000"/><path d="M13 160h1v1h-1zM16 160h1v1h-1zM12 161h1v1h-1zM15 161h1v1h-1zM17 161h1v1h-1zM12 162h1v1h-1zM14 162h1v1h-1zM17 162h1v1h-1zM12 163h1v1h-1zM14 163h1v1h-1zM17 163h1v1h-1zM13 164h1v1h-1zM16 164h1v1h-1zM13 166h2v1h-2zM12 167h1v1h-1zM14 167h1v1h-1zM17 167h1v1h-1zM12 168h1v1h-1zM14 168h1v1h-1zM17 168h1v1h-1zM12 169h1v1h-1zM14 169h1v1h-1zM17 169h1v1h-1zM13 170h4v1h-4zM17 173h1v1h-1zM10 174h8v1h-8zM10 175h1v1h-1zM17 175h1v1h-1zM17 179h1v1h-1zM10 180h1v1h-1zM12 180h6v1h-6zM12 181h1v1h-1zM17 181h1v1h-1zM10 184h1v1h-1zM10 185h1v1h-1zM13 185h1v1h-1zM10 186h1v1h-1zM13 186h1v1h-1zM10 187h1v1h-1zM13 187h1v1h-1zM10 188h8v1h-8z" fill="#0000ff"/><path d="M10 151h2v1h-2zM12 152h2v1h-2zM14 153h1v1h-1zM15 154h2v1h-2zM17 155h2v1h-2z" fill="#000"/><path d="M13 124h1v1h-1zM16 124h1v1h-1zM12 125h1v1h-1zM15 125h1v1h-1zM17 125h1v1h-1zM12 126h1v1h-1zM14 126h1v1h-1zM17 126h1v1h-1zM12 127h1v1h-1zM14 127h1v1h-1zM17 127h1v1h-1zM13 128h1v1h-1zM16 128h1v1h-1zM16 130h1v1h-1zM12 131h1v1h-1zM17 131h1v1h-1zM12 132h1v1h-1zM17 132h1v1h-1zM10 133h7v1h-7zM12 134h1v1h-1zM17 137h1v1h-1zM10 138h1v1h-1zM12 138h6v1h-6zM12 139h1v1h-1zM17 139h1v1h-1zM10 142h8v1h-8zM13 143h1v1h-1zM13 144h1v1h-1zM13 145h1v1h-1zM10 146h8v1h-8z" fill="#00805c"/><path d="M12 28h2v1h-2zM15 28h3v1h-3zM11 29h1v1h-1zM14 29h1v1h-1zM18 29h1v1h-1zM11 30h1v1h-1zM14 30h1v1h-1zM18 30h1v1h-1zM11 31h1v1h-1zM14 31h1v1h-1zM18 31h1v1h-1zM12 32h2v1h-2zM15 32h3v1h-3zM12 34h2v1h-2zM18 34h1v1h-1zM11 35h1v1h-1zM14 35h1v1h-1zM18 35h1v1h-1zM11 36h1v1h-1zM15 36h1v1h-1zM18 36h1v1h-1zM11 37h1v1h-1zM16 37h1v1h-1zM18 37h1v1h-1zM12 38h1v1h-1zM17 38h2v1h-2zM18 40h1v1h-1zM18 41h1v1h-1zM11 42h8v1h-8zM12 43h1v1h-1zM18 43h1v1h-1zM13 44h1v1h-1zM18 44h1v1h-1zM12 46h2v1h-2zM15 46h3v1h-3zM11 47h1v1h-1zM14 47h1v1h-1zM18 47h1v1h-1zM11 48h1v1h-1zM14 48h1v1h-1zM18 48h1v1h-1zM11 49h1v1h-1zM14 49h1v1h-1zM18 49h1v1h-1zM12 50h2v1h-2zM15 50h3v1h-3zM12 52h5v1h-5zM11 53h1v1h-1zM15 53h1v1h-1zM17 53h1v1h-1zM11 54h1v1h-1zM15 54h1v1h-1zM18 54h1v1h-1zM11 55h1v1h-1zM15 55h1v1h-1zM18 55h1v1h-1zM12 56h3v1h-3zM18 56h1v1h-1z" fill="#000"/><path d="M497 28h2v1h-2zM500 28h3v1h-3zM496 29h1v1h-1zM499 29h1v1h-1zM503 29h1v1h-1zM496 30h1v1h-1zM499 30h1v1h-1zM503 30h1v1h-1zM496 31h1v1h-1zM503 31h1v1h-1zM497 32h1v1h-1zM502 32h1v1h-1zM497 34h2v1h-2zM503 34h1v1h-1zM496 35h1v1h-1zM499 35h1v1h-1zM503 35h1v1h-1zM496 36h1v1h-1zM500 36h1v1h-1zM503 36h1v1h-1zM496 37h1v1h-1zM501 37h1v1h-1zM503 37h1v1h-1zM497 38h1v1h-1zM502 38h2v1h-2zM497 40h2v1h-2zM500 40h3v1h-3zM496 41h1v1h-1zM499 41h1v1h-1zM503 41h1v1h-1zM496 42h1v1h-1zM499 42h1v1h-1zM503 42h1v1h-1zM496 43h1v1h-1zM499 43h1v1h-1zM503 43h1v1h-1zM497 44h2v1h-2zM500 44h3v1h-3zM497 46h2v1h-2zM503 46h1v1h-1zM496 47h1v1h-1zM499 47h1v1h-1zM503 47h1v1h-1zM496 48h1v1h-1zM500 48h1v1h-1zM503 48h1v1h-1zM496 49h1v1h-1zM501 49h1v1h-1zM503 49h1v1h-1zM497 50h1v1h-1zM502 50h2v1h-2zM503 52h1v1h-1zM503 53h1v1h-1zM496 54h8v1h-8zM497 55h1v1h-1zM503 55h1v1h-1zM498 56h1v1h-1zM503 56h1v1h-1z" fill="#000"/><path d="M497 132h2v1h-2zM500 132h3v1h-3zM496 133h1v1h-1zM499 133h1v1h-1zM503 133h1v1h-1zM496 134h1v1h-1zM499 134h1v1h-1zM503 134h1v1h-1zM496 135h1v1h-1zM503 135h1v1h-1zM497 136h1v1h-1zM502 136h1v1h-1zM497 138h2v1h-2zM503 138h1v1h-1zM496 139h1v1h-1zM499 139h1v1h-1zM503 139h1v1h-1zM496 140h1v1h-1zM500 140h1v1h-1zM503 140h1v1h-1zM496 141h1v1h-1zM501 141h1v1h-1zM503 141h1v1h-1zM497 142h1v1h-1zM502 142h2v1h-2zM497 144h2v1h-2zM503 144h1v1h-1zM496 145h1v1h-1zM499 145h1v1h-1zM503 145h1v1h-1zM496 146h1v1h-1zM500 146h1v1h-1zM503 146h1v1h-1zM496 147h1v1h-1zM501 147h1v1h-1zM503 147h1v1h-1zM497 148h1v1h-1zM502 148h2v1h-2zM497 150h2v1h-2zM500 150h3v1h-3zM496 151h1v1h-1zM499 151h1v1h-1zM503 151h1v1h-1zM496 152h1v1h-1zM499 152h1v1h-1zM503 152h1v1h-1zM496 153h1v1h-1zM499 153h1v1h-1zM503 153h1v1h-1zM497 154h2v1h-2zM500 154h3v1h-3zM496 156h2v1h-2zM496 157h1v1h-1zM498 157h2v1h-2zM496 158h1v1h-1zM500 158h2v1h-2zM496 159h1v1h-1zM502 159h2v1h-2zM496 160h1v1h-1zM498 162h4v1h-4zM497 163h1v1h-1zM502 163h1v1h-1zM496 164h1v1h-1zM503 164h1v1h-1zM497 165h1v1h-1zM502 165h1v1h-1zM498 166h4v1h-4zM497 168h2v1h-2zM503 168h1v1h-1zM496 169h1v1h-1zM499 169h1v1h-1zM503 169h1v1h-1zM496 170h1v1h-1zM500 170h1v1h-1zM503 170h1v1h-1zM496 171h1v1h-1zM501 171h1v1h-1zM503 171h1v1h-1zM497 172h1v1h-1zM502 172h2v1h-2z" fill="#000"/></svg>
<div id="tb"></div>
<div id="cw">
<div class="c t g" style="left:7px;top:285px;width:594px;height:24px;line-height:20px;">Summary by Month</div>
<div class="c h l g gh m0" style="left:7px;top:315px;width:72px;height:41px;line-height:37px;">Month</div>
<div class="c h g gh" style="left:80px;top:315px;width:173px;height:20px;line-height:16px;">Daily Avg</div>
<div class="c h g gh" style="left:254px;top:315px;width:347px;height:20px;line-height:16px;">Monthly Totals</div>
<div class="c h" style="left:80px;top:336px;width:35px;height:20px;line-height:16px;background:#008040;">Hits</div>
<div class="c h" style="left:116px;top:336px;width:40px;height:20px;line-height:16px;background:#0080ff;">Files</div>
<div class="c h" style="left:157px;top:336px;width:47px;height:20px;line-height:16px;background:#00e0ff;">Pages</div>
<div class="c h" style="left:205px;top:336px;width:48px;height:20px;line-height:16px;background:#ffff00;">Visits</div>
<div class="c h" style="left:254px;top:336px;width:40px;height:20px;line-height:16px;background:#ff8000;">Sites</div>
<div class="c h" style="left:295px;top:336px;width:77px;height:20px;line-height:16px;background:#ff0000;">KBytes</div>
<div class="c h" style="left:373px;top:336px;width:50px;height:20px;line-height:16px;background:#ffff00;">Visits</div>
<div class="c h" style="left:424px;top:336px;width:57px;height:20px;line-height:16px;background:#00e0ff;">Pages</div>
<div class="c h" style="left:482px;top:336px;width:59px;height:20px;line-height:16px;background:#0080ff;">Files</div>
<div class="c h" style="left:542px;top:336px;width:59px;height:20px;line-height:16px;background:#008040;">Hits</div>
<div class="c d l i1" style="left:7px;top:362px;width:72px;height:20px;line-height:16px;"><span class="a">Oct 2012</span></div>
<div class="c d r" style="left:80px;top:362px;width:35px;height:20px;line-height:16px;">3165</div>
<div class="c d r" style="left:116px;top:362px;width:40px;height:20px;line-height:16px;">2769</div>
<div class="c d r" style="left:157px;top:362px;width:47px;height:20px;line-height:16px;">904</div>
<div class="c d r" style="left:205px;top:362px;width:48px;height:20px;line-height:16px;">413</div>
<div class="c d r" style="left:254px;top:362px;width:40px;height:20px;line-height:16px;">4817</div>
<div class="c d r" style="left:295px;top:362px;width:77px;height:20px;line-height:16px;">1768090</div>
<div class="c d r" style="left:373px;top:362px;width:50px;height:20px;line-height:16px;">12823</div>
<div class="c d r" style="left:424px;top:362px;width:57px;height:20px;line-height:16px;">28052</div>
<div class="c d r" style="left:482px;top:362px;width:59px;height:20px;line-height:16px;">85841</div>
<div class="c d r" style="left:542px;top:362px;width:59px;height:20px;line-height:16px;">98128</div>
<div class="c d l i1" style="left:7px;top:383px;width:72px;height:20px;line-height:16px;"><span class="a">Sep 2012</span></div>
<div class="c d r" style="left:80px;top:383px;width:35px;height:20px;line-height:16px;">2770</div>
<div class="c d r" style="left:116px;top:383px;width:40px;height:20px;line-height:16px;">2268</div>
<div class="c d r" style="left:157px;top:383px;width:47px;height:20px;line-height:16px;">861</div>
<div class="c d r" style="left:205px;top:383px;width:48px;height:20px;line-height:16px;">386</div>
<div class="c d r" style="left:254px;top:383px;width:40px;height:20px;line-height:16px;">4093</div>
<div class="c d r" style="left:295px;top:383px;width:77px;height:20px;line-height:16px;">1756832</div>
<div class="c d r" style="left:373px;top:383px;width:50px;height:20px;line-height:16px;">11582</div>
<div class="c d r" style="left:424px;top:383px;width:57px;height:20px;line-height:16px;">25856</div>
<div class="c d r" style="left:482px;top:383px;width:59px;height:20px;line-height:16px;">68062</div>
<div class="c d r" style="left:542px;top:383px;width:59px;height:20px;line-height:16px;">83107</div>
<div class="c d l i1" style="left:7px;top:404px;width:72px;height:20px;line-height:16px;"><span class="a">Aug 2012</span></div>
<div class="c d r" style="left:80px;top:404px;width:35px;height:20px;line-height:16px;">2475</div>
<div class="c d r" style="left:116px;top:404px;width:40px;height:20px;line-height:16px;">2116</div>
<div class="c d r" style="left:157px;top:404px;width:47px;height:20px;line-height:16px;">768</div>
<div class="c d r" style="left:205px;top:404px;width:48px;height:20px;line-height:16px;">311</div>
<div class="c d r" style="left:254px;top:404px;width:40px;height:20px;line-height:16px;">3860</div>
<div class="c d r" style="left:295px;top:404px;width:77px;height:20px;line-height:16px;">1779982</div>
<div class="c d r" style="left:373px;top:404px;width:50px;height:20px;line-height:16px;">9662</div>
<div class="c d r" style="left:424px;top:404px;width:57px;height:20px;line-height:16px;">23818</div>
<div class="c d r" style="left:482px;top:404px;width:59px;height:20px;line-height:16px;">65613</div>
<div class="c d r" style="left:542px;top:404px;width:59px;height:20px;line-height:16px;">76744</div>
<div class="c d l i1" style="left:7px;top:425px;width:72px;height:20px;line-height:16px;"><span class="a">Jul 2012</span></div>
<div class="c d r" style="left:80px;top:425px;width:35px;height:20px;line-height:16px;">2335</div>
<div class="c d r" style="left:116px;top:425px;width:40px;height:20px;line-height:16px;">1944</div>
<div class="c d r" style="left:157px;top:425px;width:47px;height:20px;line-height:16px;">703</div>
<div class="c d r" style="left:205px;top:425px;width:48px;height:20px;line-height:16px;">290</div>
<div class="c d r" style="left:254px;top:425px;width:40px;height:20px;line-height:16px;">3690</div>
<div class="c d r" style="left:295px;top:425px;width:77px;height:20px;line-height:16px;">1524953</div>
<div class="c d r" style="left:373px;top:425px;width:50px;height:20px;line-height:16px;">9016</div>
<div class="c d r" style="left:424px;top:425px;width:57px;height:20px;line-height:16px;">21807</div>
<div class="c d r" style="left:482px;top:425px;width:59px;height:20px;line-height:16px;">60282</div>
<div class="c d r" style="left:542px;top:425px;width:59px;height:20px;line-height:16px;">72392</div>
<div class="c d l i1" style="left:7px;top:446px;width:72px;height:20px;line-height:16px;"><span class="a">Jun 2012</span></div>
<div class="c d r" style="left:80px;top:446px;width:35px;height:20px;line-height:16px;">2760</div>
<div class="c d r" style="left:116px;top:446px;width:40px;height:20px;line-height:16px;">2133</div>
<div class="c d r" style="left:157px;top:446px;width:47px;height:20px;line-height:16px;">697</div>
<div class="c d r" style="left:205px;top:446px;width:48px;height:20px;line-height:16px;">305</div>
<div class="c d r" style="left:254px;top:446px;width:40px;height:20px;line-height:16px;">3655</div>
<div class="c d r" style="left:295px;top:446px;width:77px;height:20px;line-height:16px;">2078223</div>
<div class="c d r" style="left:373px;top:446px;width:50px;height:20px;line-height:16px;">9175</div>
<div class="c d r" style="left:424px;top:446px;width:57px;height:20px;line-height:16px;">20933</div>
<div class="c d r" style="left:482px;top:446px;width:59px;height:20px;line-height:16px;">64009</div>
<div class="c d r" style="left:542px;top:446px;width:59px;height:20px;line-height:16px;">82807</div>
<div class="c d l i1" style="left:7px;top:467px;width:72px;height:20px;line-height:16px;"><span class="a">May 2012</span></div>
<div class="c d r" style="left:80px;top:467px;width:35px;height:20px;line-height:16px;">2345</div>
<div class="c d r" style="left:116px;top:467px;width:40px;height:20px;line-height:16px;">1893</div>
<div class="c d r" style="left:157px;top:467px;width:47px;height:20px;line-height:16px;">664</div>
<div class="c d r" style="left:205px;top:467px;width:48px;height:20px;line-height:16px;">255</div>
<div class="c d r" style="left:254px;top:467px;width:40px;height:20px;line-height:16px;">3249</div>
<div class="c d r" style="left:295px;top:467px;width:77px;height:20px;line-height:16px;">1397787</div>
<div class="c d r" style="left:373px;top:467px;width:50px;height:20px;line-height:16px;">7934</div>
<div class="c d r" style="left:424px;top:467px;width:57px;height:20px;line-height:16px;">20589</div>
<div class="c d r" style="left:482px;top:467px;width:59px;height:20px;line-height:16px;">58701</div>
<div class="c d r" style="left:542px;top:467px;width:59px;height:20px;line-height:16px;">72702</div>
<div class="c d l i1" style="left:7px;top:488px;width:72px;height:20px;line-height:16px;"><span class="a">Apr 2012</span></div>
<div class="c d r" style="left:80px;top:488px;width:35px;height:20px;line-height:16px;">2338</div>
<div class="c d r" style="left:116px;top:488px;width:40px;height:20px;line-height:16px;">1894</div>
<div class="c d r" style="left:157px;top:488px;width:47px;height:20px;line-height:16px;">602</div>
<div class="c d r" style="left:205px;top:488px;width:48px;height:20px;line-height:16px;">246</div>
<div class="c d r" style="left:254px;top:488px;width:40px;height:20px;line-height:16px;">2773</div>
<div class="c d r" style="left:295px;top:488px;width:77px;height:20px;line-height:16px;">1327983</div>
<div class="c d r" style="left:373px;top:488px;width:50px;height:20px;line-height:16px;">7380</div>
<div class="c d r" style="left:424px;top:488px;width:57px;height:20px;line-height:16px;">18087</div>
<div class="c d r" style="left:482px;top:488px;width:59px;height:20px;line-height:16px;">56847</div>
<div class="c d r" style="left:542px;top:488px;width:59px;height:20px;line-height:16px;">70144</div>
<div class="c d l i1" style="left:7px;top:509px;width:72px;height:20px;line-height:16px;"><span class="a">Mar 2012</span></div>
<div class="c d r" style="left:80px;top:509px;width:35px;height:20px;line-height:16px;">1946</div>
<div class="c d r" style="left:116px;top:509px;width:40px;height:20px;line-height:16px;">1603</div>
<div class="c d r" style="left:157px;top:509px;width:47px;height:20px;line-height:16px;">567</div>
<div class="c d r" style="left:205px;top:509px;width:48px;height:20px;line-height:16px;">207</div>
<div class="c d r" style="left:254px;top:509px;width:40px;height:20px;line-height:16px;">2403</div>
<div class="c d r" style="left:295px;top:509px;width:77px;height:20px;line-height:16px;">2036486</div>
<div class="c d r" style="left:373px;top:509px;width:50px;height:20px;line-height:16px;">6431</div>
<div class="c d r" style="left:424px;top:509px;width:57px;height:20px;line-height:16px;">17606</div>
<div class="c d r" style="left:482px;top:509px;width:59px;height:20px;line-height:16px;">49696</div>
<div class="c d r" style="left:542px;top:509px;width:59px;height:20px;line-height:16px;">60350</div>
<div class="c d l i1" style="left:7px;top:530px;width:72px;height:20px;line-height:16px;"><span class="a">Feb 2012</span></div>
<div class="c d r" style="left:80px;top:530px;width:35px;height:20px;line-height:16px;">2101</div>
<div class="c d r" style="left:116px;top:530px;width:40px;height:20px;line-height:16px;">1559</div>
<div class="c d r" style="left:157px;top:530px;width:47px;height:20px;line-height:16px;">600</div>
<div class="c d r" style="left:205px;top:530px;width:48px;height:20px;line-height:16px;">186</div>
<div class="c d r" style="left:254px;top:530px;width:40px;height:20px;line-height:16px;">2284</div>
<div class="c d r" style="left:295px;top:530px;width:77px;height:20px;line-height:16px;">1418179</div>
<div class="c d r" style="left:373px;top:530px;width:50px;height:20px;line-height:16px;">5407</div>
<div class="c d r" style="left:424px;top:530px;width:57px;height:20px;line-height:16px;">17410</div>
<div class="c d r" style="left:482px;top:530px;width:59px;height:20px;line-height:16px;">45220</div>
<div class="c d r" style="left:542px;top:530px;width:59px;height:20px;line-height:16px;">60940</div>
<div class="c d l i1" style="left:7px;top:551px;width:72px;height:20px;line-height:16px;"><span class="a">Jan 2012</span></div>
<div class="c d r" style="left:80px;top:551px;width:35px;height:20px;line-height:16px;">2147</div>
<div class="c d r" style="left:116px;top:551px;width:40px;height:20px;line-height:16px;">1556</div>
<div class="c d r" style="left:157px;top:551px;width:47px;height:20px;line-height:16px;">536</div>
<div class="c d r" style="left:205px;top:551px;width:48px;height:20px;line-height:16px;">196</div>
<div class="c d r" style="left:254px;top:551px;width:40px;height:20px;line-height:16px;">1787</div>
<div class="c d r" style="left:295px;top:551px;width:77px;height:20px;line-height:16px;">938406</div>
<div class="c d r" style="left:373px;top:551px;width:50px;height:20px;line-height:16px;">6081</div>
<div class="c d r" style="left:424px;top:551px;width:57px;height:20px;line-height:16px;">16622</div>
<div class="c d r" style="left:482px;top:551px;width:59px;height:20px;line-height:16px;">48257</div>
<div class="c d r" style="left:542px;top:551px;width:59px;height:20px;line-height:16px;">66574</div>
<div class="c d l i1" style="left:7px;top:572px;width:72px;height:20px;line-height:16px;"><span class="a">Dec 2011</span></div>
<div class="c d r" style="left:80px;top:572px;width:35px;height:20px;line-height:16px;">2070</div>
<div class="c d r" style="left:116px;top:572px;width:40px;height:20px;line-height:16px;">1199</div>
<div class="c d r" style="left:157px;top:572px;width:47px;height:20px;line-height:16px;">539</div>
<div class="c d r" style="left:205px;top:572px;width:48px;height:20px;line-height:16px;">197</div>
<div class="c d r" style="left:254px;top:572px;width:40px;height:20px;line-height:16px;">1773</div>
<div class="c d r" style="left:295px;top:572px;width:77px;height:20px;line-height:16px;">823013</div>
<div class="c d r" style="left:373px;top:572px;width:50px;height:20px;line-height:16px;">6131</div>
<div class="c d r" style="left:424px;top:572px;width:57px;height:20px;line-height:16px;">16739</div>
<div class="c d r" style="left:482px;top:572px;width:59px;height:20px;line-height:16px;">37171</div>
<div class="c d r" style="left:542px;top:572px;width:59px;height:20px;line-height:16px;">64197</div>
<div class="c d l i1" style="left:7px;top:593px;width:72px;height:20px;line-height:16px;"><span class="a">Nov 2011</span></div>
<div class="c d r" style="left:80px;top:593px;width:35px;height:20px;line-height:16px;">2265</div>
<div class="c d r" style="left:116px;top:593px;width:40px;height:20px;line-height:16px;">1395</div>
<div class="c d r" style="left:157px;top:593px;width:47px;height:20px;line-height:16px;">454</div>
<div class="c d r" style="left:205px;top:593px;width:48px;height:20px;line-height:16px;">170</div>
<div class="c d r" style="left:254px;top:593px;width:40px;height:20px;line-height:16px;">1461</div>
<div class="c d r" style="left:295px;top:593px;width:77px;height:20px;line-height:16px;">747493</div>
<div class="c d r" style="left:373px;top:593px;width:50px;height:20px;line-height:16px;">5129</div>
<div class="c d r" style="left:424px;top:593px;width:57px;height:20px;line-height:16px;">13649</div>
<div class="c d r" style="left:482px;top:593px;width:59px;height:20px;line-height:16px;">41858</div>
<div class="c d r" style="left:542px;top:593px;width:59px;height:20px;line-height:16px;">67959</div>
<div class="c h l g i1 gh" style="left:7px;top:619px;width:287px;height:20px;line-height:16px;">Totals</div>
<div class="c h r g tn" style="left:295px;top:619px;width:77px;height:20px;line-height:16px;">17597427</div>
<div class="c h r g tn" style="left:373px;top:619px;width:50px;height:20px;line-height:16px;">96751</div>
<div class="c h r g tn" style="left:424px;top:619px;width:57px;height:20px;line-height:16px;">241168</div>
<div class="c h r g tn" style="left:482px;top:619px;width:59px;height:20px;line-height:16px;">681557</div>
<div class="c h r g tn" style="left:542px;top:619px;width:59px;height:20px;line-height:16px;">876044</div>
</div>
</body></html>
